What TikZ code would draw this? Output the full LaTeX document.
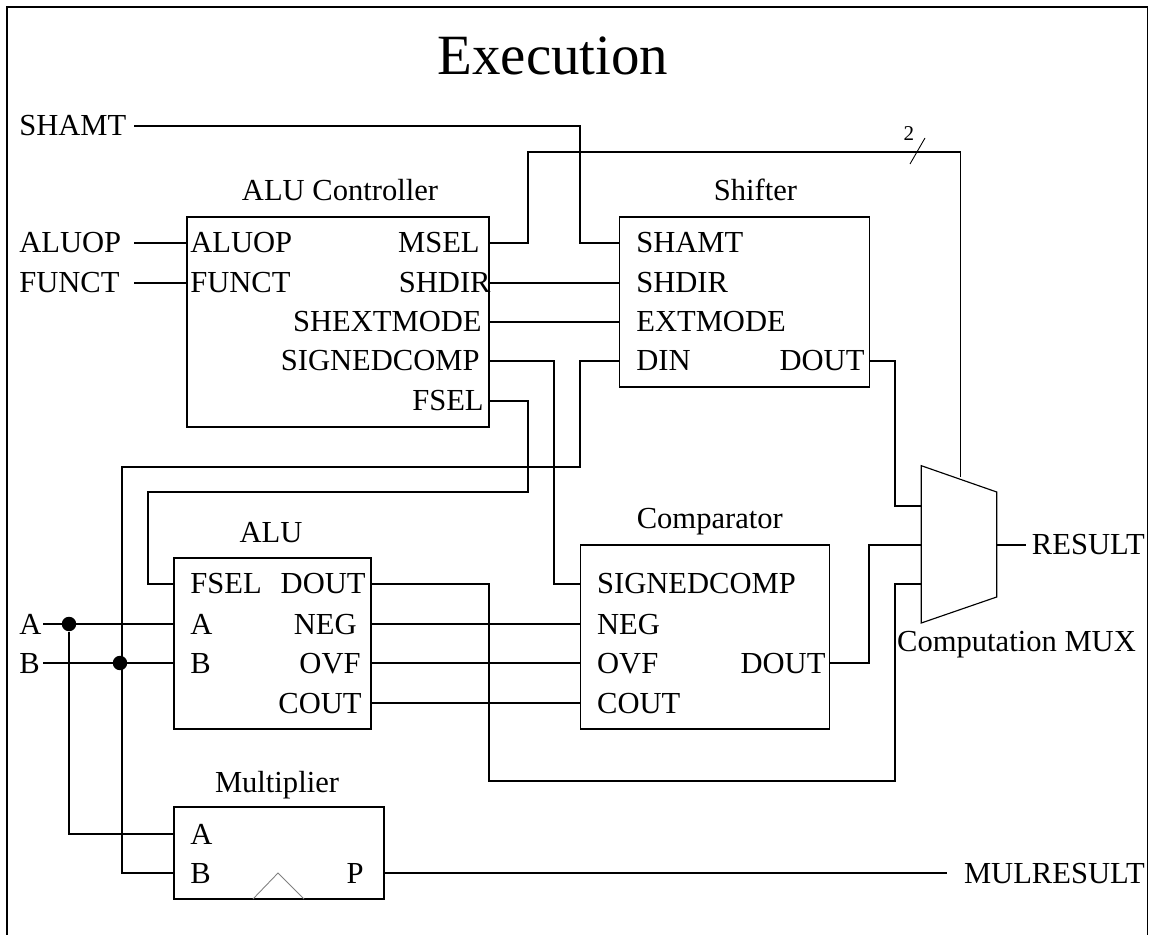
\documentclass[tikz,border=0pt]{standalone}
\usepackage{fontspec}
\setmainfont{Liberation Serif}
\begin{document}
\begin{tikzpicture}[x=0.02cm,y=0.02cm]
\tikzset{every node/.append style={inner sep=0pt},
  wire/.style={black,line width=0.65pt},
  blockbox/.style={draw=black,line width=0.65pt,fill=none,outer sep=0pt},
  pinlabel/.style={font=\fontsize{17.4pt}{19pt}\selectfont},
  pinleft/.style={pinlabel,anchor=base west},
  pinright/.style={pinlabel,anchor=base east},
  blocktitle/.style={pinlabel,anchor=base},
  joint/.style={circle,fill=black,minimum size=0.29cm}}
\useasboundingbox (0,0) rectangle (1153,-935);
\draw [wire] (7,-935) -- (7,-7) -- (1147.5,-7) -- (1147.5,-935);
\node (title) [anchor=base,font=\fontsize{32.4pt}{34pt}\selectfont] at (553,-75) {Execution};
% blocks
\node (aluctl) [blockbox,minimum width=6.04cm,minimum height=4.2cm] at (338,-322) {};
\node (shifter) [blockbox,minimum width=4.99cm,minimum height=3.4cm] at (744.55,-302) {};
\node (alu) [blockbox,minimum width=3.94cm,minimum height=3.42cm] at (272.5,-643.5) {};
\node (comparator) [blockbox,minimum width=4.99cm,minimum height=3.68cm] at (705.15,-637) {};
\node (multiplier) [blockbox,minimum width=4.2cm,minimum height=1.84cm] at (279,-853) {};
\draw [wire] (921.3,-465.7) coordinate (muxtl) -- (996.7,-492) coordinate (muxtr) -- (996.7,-597) coordinate (muxbr) -- (921.3,-623) coordinate (muxbl) -- cycle;
\draw [gray,line width=0.5pt] (253,-899) -- (278,-873) -- (304,-899);
\node (aluctltitle) [blocktitle] at (340,-201) {ALU Controller};
\node (shiftertitle) [blocktitle] at (755.5,-201) {Shifter};
\node (alutitle) [blocktitle] at (271,-543) {ALU};
\node (comparatortitle) [blocktitle] at (709.8,-529) {Comparator};
\node (multipliertitle) [blocktitle] at (277,-792) {Multiplier};
\node (muxtitle) [blocktitle] at (1016.5,-651) {Computation MUX};
% outside labels
\node (shamtname) [pinleft] at (19,-136) {SHAMT};
\node (aluopname) [pinleft] at (19,-253) {ALUOP};
\node (functname) [pinleft] at (19,-293) {FUNCT};
\node (aname) [pinleft] at (19,-634) {A};
\node (bname) [pinleft] at (19,-673) {B};
\node (resultname) [pinright] at (1145,-555) {RESULT};
\node (mulname) [pinright] at (1145,-883) {MULRESULT};
% alu controller pins
\node (aluctlaluop) [pinleft] at (190,-253) {ALUOP};
\node (aluctlfunct) [pinleft] at (190,-293) {FUNCT};
\node (aluctlmsel) [pinright] at (480,-253) {MSEL};
\node (aluctlshdir) [pinright] at (491,-293) {SHDIR};
\node (aluctlext) [pinright] at (482,-332) {SHEXTMODE};
\node (aluctlsigned) [pinright] at (480,-371) {SIGNEDCOMP};
\node (aluctlfsel) [pinright] at (484,-411) {FSEL};
% shifter pins
\node (shiftershamt) [pinleft] at (636,-253) {SHAMT};
\node (shiftershdir) [pinleft] at (636,-293) {SHDIR};
\node (shifterext) [pinleft] at (636,-332) {EXTMODE};
\node (shifterdin) [pinleft] at (636,-371) {DIN};
\node (shifterdout) [pinright] at (864.8,-371) {DOUT};
% alu pins
\node (alufsel) [pinleft] at (190,-594) {FSEL};
\node (alua) [pinleft] at (190,-634) {A};
\node (alub) [pinleft] at (190,-673) {B};
\node (aludout) [pinright] at (366,-594) {DOUT};
\node (aluneg) [pinright] at (357,-634) {NEG};
\node (aluovf) [pinright] at (361,-673) {OVF};
\node (alucout) [pinright] at (362,-713) {COUT};
% comparator pins
\node (compsigned) [pinleft] at (596.8,-594) {SIGNEDCOMP};
\node (compneg) [pinleft] at (596.8,-634) {NEG};
\node (compovf) [pinleft] at (596.8,-673) {OVF};
\node (compcout) [pinleft] at (596.8,-713) {COUT};
\node (compdout) [pinright] at (825.8,-673) {DOUT};
% multiplier pins
\node (mula) [pinleft] at (190,-844) {A};
\node (mulb) [pinleft] at (190,-883) {B};
\node (mulp) [pinright] at (364,-883) {P};
% wire ends
\coordinate (shamtend) at (134,-126);
\coordinate (aluopend) at (134,-243);
\coordinate (functend) at (134,-283);
\coordinate (aend) at (43,-624);
\coordinate (bend) at (43,-663);
\coordinate (resultend) at (1025.7,-545);
\coordinate (mulend) at (947.3,-873);
\coordinate (msel) at (aluctl.east |- 0,-243);
\coordinate (shdir) at (aluctl.east |- 0,-283);
\coordinate (ext) at (aluctl.east |- 0,-322);
\coordinate (signed) at (aluctl.east |- 0,-361);
\coordinate (fsel) at (aluctl.east |- 0,-401);
\node (ajoint) [joint] at (69,-624) {};
\node (bjoint) [joint] at (120,-663) {};
% wires
\draw [wire] (shamtend) -| (580,-243) -- (shifter.west |- 0,-243);
\draw [wire] (aluopend) -- (aluctl.west |- 0,-243);
\draw [wire] (functend) -- (aluctl.west |- 0,-283);
\draw [wire] (msel) -| (528,-152) -| (960.5,-477);
\draw [wire] (shdir) -- (shifter.west |- 0,-283);
\draw [wire] (ext) -- (shifter.west |- 0,-322);
\draw [wire] (signed) -| (554,-584) -- (comparator.west |- 0,-584);
\draw [wire] (fsel) -| (528,-492) -| (148,-584) -- (alu.west |- 0,-584);
\draw [wire] (shifter.west |- 0,-361) -| (580,-467) -| (122,-873) -- (multiplier.west |- 0,-873);
\draw [wire] (shifter.east |- 0,-361) -| (895,-506) -- (muxtl |- 0,-506);
\draw [wire] (aend) -- (alu.west |- 0,-624);
\draw [wire] (bend) -- (alu.west |- 0,-663);
\draw [wire] (ajoint) |- (multiplier.west |- 0,-834);
\draw [wire] (alu.east |- 0,-584) -| (489,-781) -| (895,-584) -- (muxtl |- 0,-584);
\draw [wire] (alu.east |- 0,-624) -- (comparator.west |- 0,-624);
\draw [wire] (alu.east |- 0,-663) -- (comparator.west |- 0,-663);
\draw [wire] (alu.east |- 0,-703) -- (comparator.west |- 0,-703);
\draw [wire] (comparator.east |- 0,-663) -| (869,-545) -- (muxtl |- 0,-545);
\draw [wire] (muxtr |- 0,-545) -- (resultend);
\draw [wire] (multiplier.east |- 0,-873) -- (mulend);
% bus mark
\draw [black,line width=0.5pt] (910,-164) -- (925,-138);
\node (buswidth) [font=\fontsize{12pt}{13pt}\selectfont] at (909,-134) {2};
\end{tikzpicture}
\end{document}
